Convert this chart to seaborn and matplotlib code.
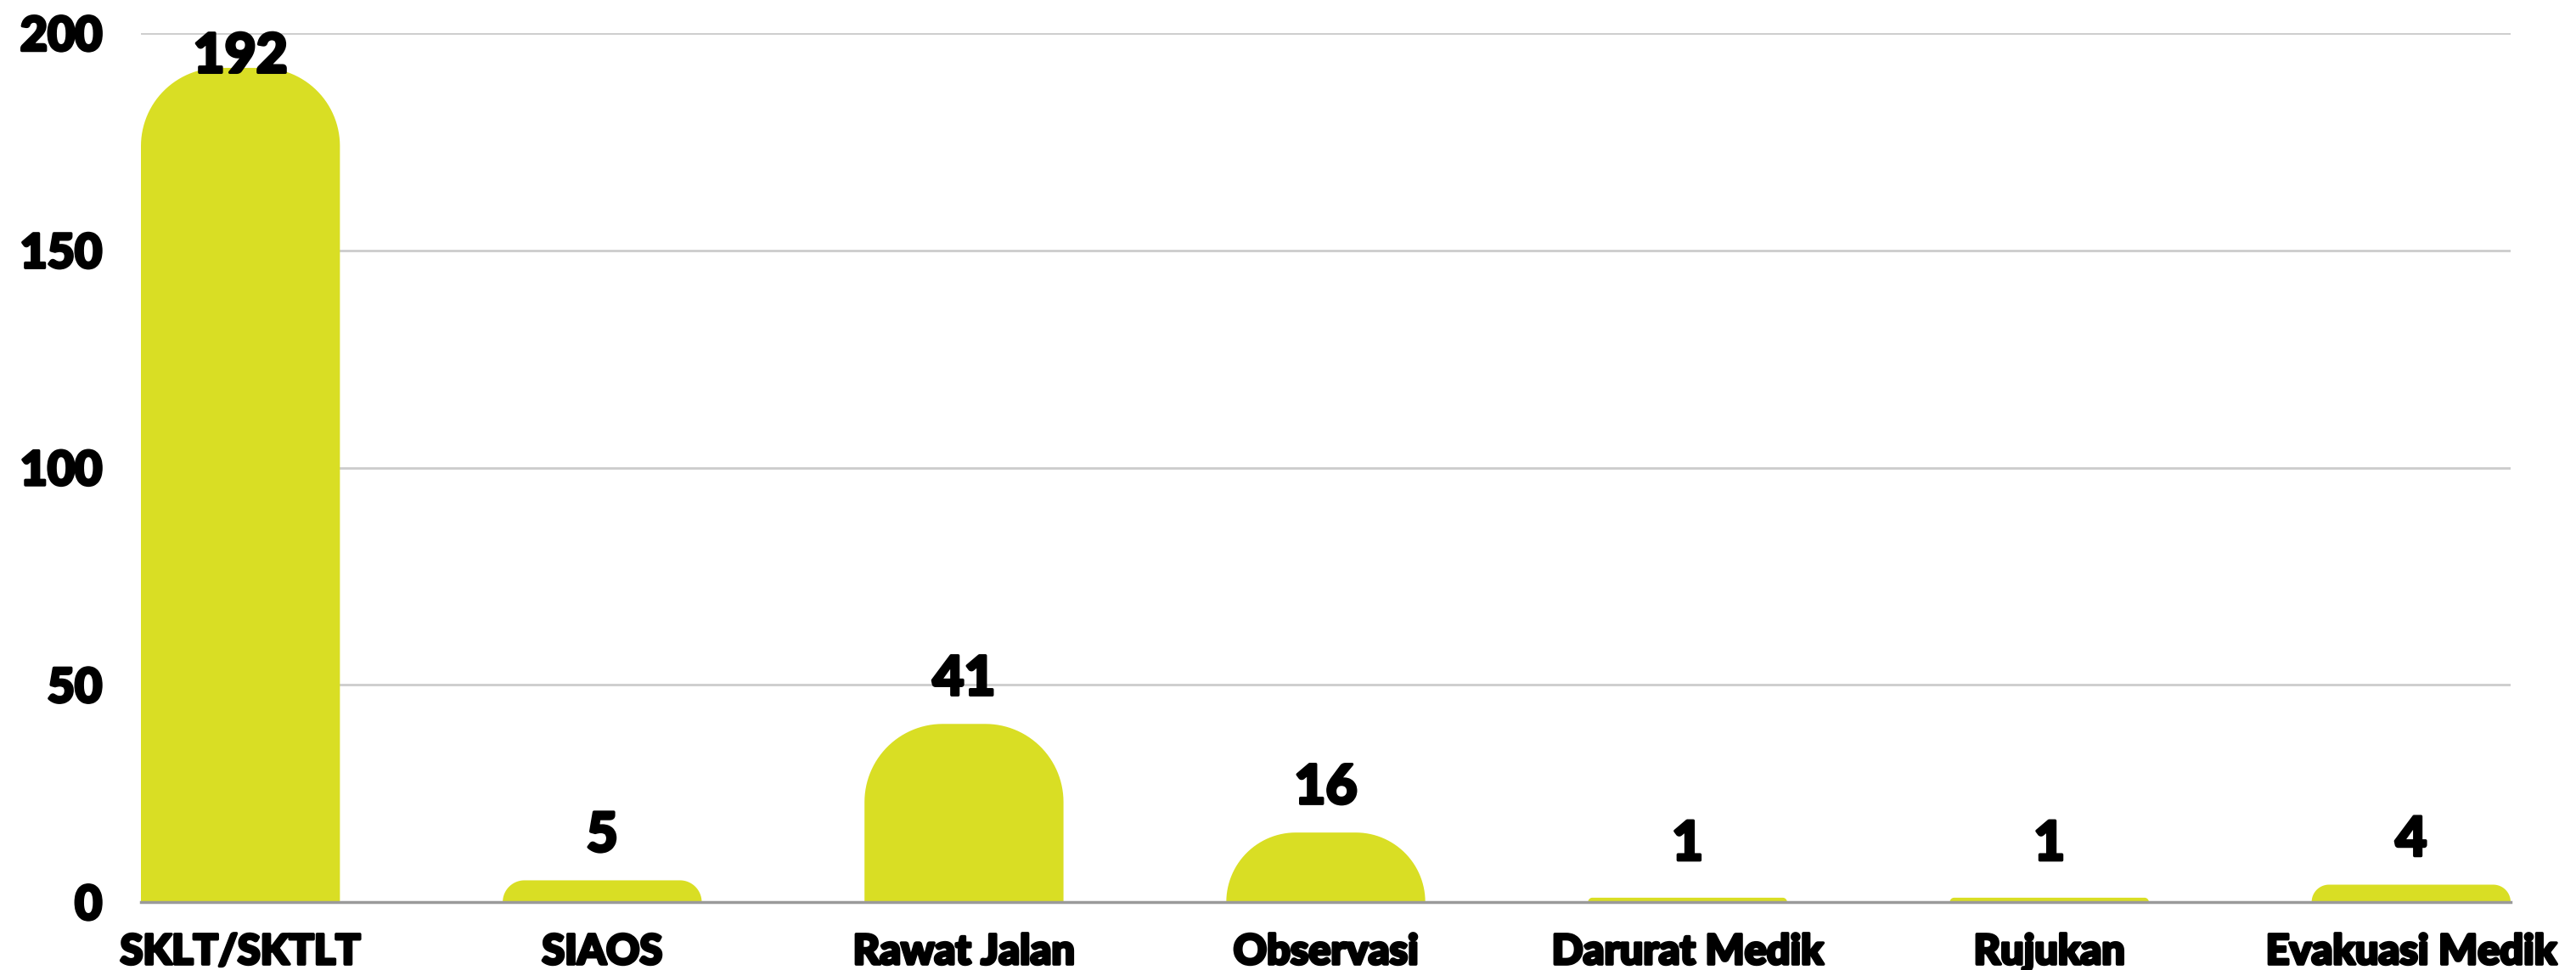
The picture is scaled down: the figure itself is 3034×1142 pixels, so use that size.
import numpy as np
import matplotlib
matplotlib.use("Agg")
import matplotlib.pyplot as plt
import matplotlib.patheffects as pe
from matplotlib.patches import Polygon
import seaborn as sns

# ----------------------------------------------------------------------
# Data
# ----------------------------------------------------------------------
categories = ["SKLT/SKTLT", "SIAOS", "Rawat Jalan", "Observasi",
              "Darurat Medik", "Rujukan", "Evakuasi Medik"]
counts = [192, 5, 41, 16, 1, 1, 4]
y_ticks = [0, 50, 100, 150, 200]

BAR_COLOR = "#D9DE24"
GRID_COLOR = "#CCCCCC"
FONT = ["Lato", "DejaVu Sans"]

sns.set_theme(style="white")
plt.rcParams["font.family"] = FONT

fig = plt.figure(figsize=(30.34, 11.42), dpi=100)
ax = fig.add_axes([166 / 3034, 1 - 1062 / 1142, (2957 - 166) / 3034, (1062 - 39) / 1142])

bar_width = 0.55
sns.barplot(x=categories, y=counts, color=BAR_COLOR, width=bar_width,
            saturation=1, ax=ax, zorder=3)

ax.set_xlim(-bar_width / 2, len(categories) - 1 + bar_width / 2)
ax.set_ylim(0, 200)
ax.set_yticks(y_ticks)
ax.set_xlabel("")
ax.set_ylabel("")
ax.grid(axis="y", color=GRID_COLOR, linewidth=2, zorder=0)
ax.grid(axis="x", visible=False)
for side in ["left", "right", "top"]:
    ax.spines[side].set_visible(False)
ax.spines["bottom"].set_color("#9A9A9A")
ax.spines["bottom"].set_linewidth(2.5)
ax.spines["bottom"].set_zorder(4)

stroke = [pe.withStroke(linewidth=2.5, foreground="black")]
ax.tick_params(axis="both", length=0)
ax.tick_params(axis="y", pad=33)
ax.tick_params(axis="x", pad=26)
for lab in ax.get_yticklabels():
    lab.set_fontsize(40)
    lab.set_fontweight("black")
    lab.set_color("black")
    lab.set_path_effects(stroke)
for lab in ax.get_xticklabels():
    lab.set_fontsize(35)
    lab.set_fontweight("black")
    lab.set_color("black")
    lab.set_path_effects(stroke)

# ----------------------------------------------------------------------
# Replace plain bars by bars with rounded tops (radius fixed in pixels)
# ----------------------------------------------------------------------
ax_bbox = ax.get_window_extent()
px_x = ax_bbox.width / (ax.get_xlim()[1] - ax.get_xlim()[0])
px_y = ax_bbox.height / (ax.get_ylim()[1] - ax.get_ylim()[0])
radius_px = 92

for bar in list(ax.patches):
    x0 = bar.get_x()
    w = bar.get_width()
    h = bar.get_height()
    r = min(radius_px, h * px_y, w * px_x / 2)
    rx, ry = r / px_x, r / px_y
    t = np.linspace(np.pi, np.pi / 2, 30)
    left = np.column_stack([x0 + rx + rx * np.cos(t), h - ry + ry * np.sin(t)])
    t2 = np.linspace(np.pi / 2, 0, 30)
    right = np.column_stack([x0 + w - rx + rx * np.cos(t2), h - ry + ry * np.sin(t2)])
    pts = np.vstack([[x0, 0], left, right, [x0 + w, 0]])
    ax.add_patch(Polygon(pts, closed=True, facecolor=BAR_COLOR,
                         edgecolor="none", zorder=3))
    bar.set_visible(False)

# value labels
for i, v in enumerate(counts):
    y = min(max(v + 4.5, 7.5), 188.8)
    ax.text(i, y, str(v), ha="center", va="bottom", fontsize=46,
            fontweight="black", color="black", family=FONT,
            path_effects=stroke, zorder=5, clip_on=False)

fig.savefig("out.png", dpi=100, facecolor="white")
